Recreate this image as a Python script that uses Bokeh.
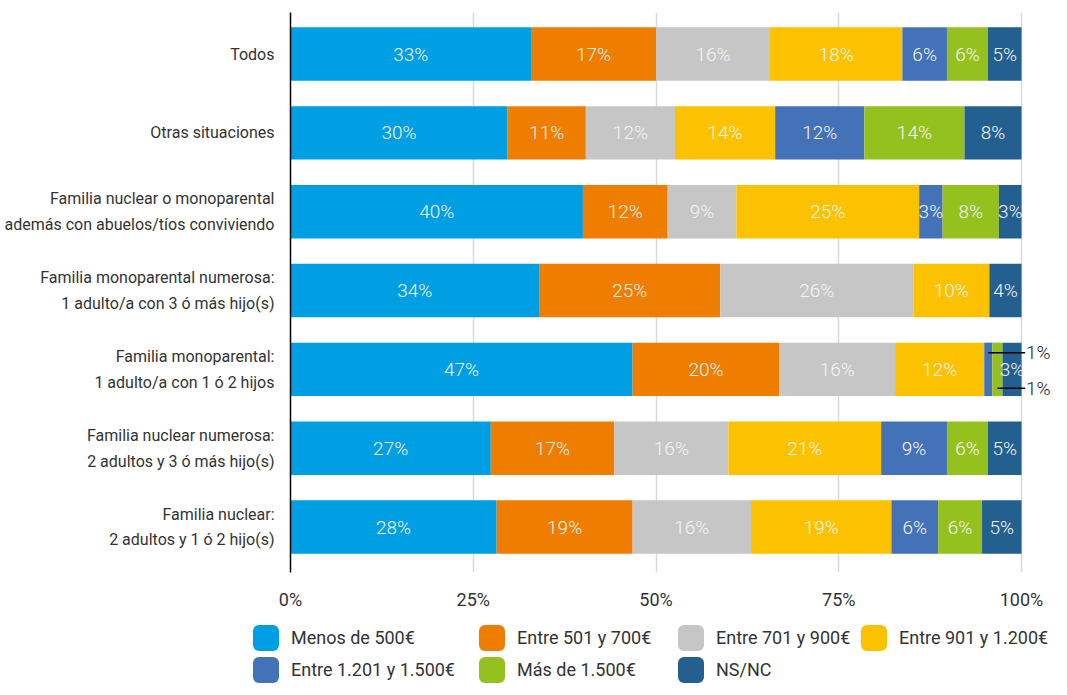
from bokeh.plotting import figure
from bokeh.models import Range1d, FixedTicker, ColumnDataSource, Div
from bokeh.layouts import column
from bokeh.core.properties import value
from bokeh.embed import file_html
from bokeh.resources import INLINE

# ---------------- data ----------------
categories = [
    "Familia nuclear:\n2 adultos y 1 ó 2 hijo(s)",
    "Familia nuclear numerosa:\n2 adultos y 3 ó más hijo(s)",
    "Familia monoparental:\n1 adulto/a con 1 ó 2 hijos",
    "Familia monoparental numerosa:\n1 adulto/a con 3 ó más hijo(s)",
    "Familia nuclear o monoparental\nademás con abuelos/tíos conviviendo",
    "Otras situaciones",
    "Todos",
]
series_names = ["Menos de 500€", "Entre 501 y 700€", "Entre 701 y 900€",
                "Entre 901 y 1.200€", "Entre 1.201 y 1.500€", "Más de 1.500€", "NS/NC"]
# values (%) per series, categories from bottom to top
menos_500 = [28.2, 27.4, 46.8, 34.0, 40.0, 29.7, 32.9]
e501_700 = [18.6, 16.9, 20.1, 24.8, 11.6, 10.7, 17.1]
e701_900 = [16.2, 15.6, 15.8, 26.4, 9.4, 12.2, 15.6]
e901_1200 = [19.2, 20.9, 12.2, 10.4, 25.0, 13.7, 18.1]
e1201_1500 = [6.4, 9.0, 1.1, 0.0, 3.2, 12.2, 6.1]
mas_1500 = [6.0, 5.6, 1.4, 0.0, 7.7, 13.7, 5.6]
ns_nc = [5.4, 4.6, 2.6, 4.4, 3.1, 7.8, 4.6]
x_ticks = [0, 25, 50, 75, 100]
x_tick_labels = ["0%", "25%", "50%", "75%", "100%"]

series = [menos_500, e501_700, e701_900, e901_1200, e1201_1500, mas_1500, ns_nc]
colors = ["#009FE3", "#EF7D00", "#C6C6C6", "#FCC200", "#4472B8", "#95C11F", "#23608F"]

FONT = "Roboto"
LIGHT = "Roboto Light"
TXT = "#333333"
W = 1051

p = figure(width=W, height=612, output_backend="svg", toolbar_location=None,
           x_range=Range1d(0, 104.1), y_range=Range1d(-0.577, 6.527),
           min_border_left=290, min_border_right=0, min_border_top=12, min_border_bottom=34)
p.outline_line_color = None
p.background_fill_color = "white"
p.border_fill_color = "white"

ys = list(range(len(categories)))
left = [0.0] * len(categories)
lab_x, lab_y, lab_t = [], [], []
small = []  # tiny segments get a callout
for vals, col, name in zip(series, colors, series_names):
    right = [l + v for l, v in zip(left, vals)]
    src = ColumnDataSource(dict(y=ys, left=left, right=right))
    p.hbar(y="y", left="left", right="right", height=0.678, source=src,
           fill_color=col, line_color=None, legend_label=name)
    for i, v in enumerate(vals):
        mid = (left[i] + right[i]) / 2
        if v >= 2:
            lab_x.append(mid); lab_y.append(ys[i]); lab_t.append(f"{v:.0f}%")
        elif v > 0:
            small.append((mid, ys[i], f"{v:.0f}%"))
    left = right
p.legend.visible = False  # legend drawn below the chart as an HTML strip

p.text(x=lab_x, y=lab_y, text=lab_t, text_align="center", text_baseline="middle",
       text_font=value(LIGHT), text_font_size="19px", text_color="#F4F4F4")

# callouts for tiny segments
offs = [0.21, -0.24]
for k, (mx, yy, t) in enumerate(small):
    oy = offs[k % 2]
    p.segment(x0=[mx], y0=[yy + oy], x1=[100.5], y1=[yy + oy], line_color="black", line_width=1.5)
    p.text(x=[100.6], y=[yy + oy], text=[t], text_align="left", text_baseline="middle",
           text_font=value(LIGHT), text_font_size="19px", text_color="#1a1a1a")

# axes
p.yaxis.ticker = FixedTicker(ticks=ys)
p.yaxis.major_label_overrides = {i: c for i, c in zip(ys, categories)}
p.yaxis.major_label_text_font = FONT
p.yaxis.major_label_text_font_size = "16px"
p.yaxis.major_label_text_color = TXT
p.yaxis.major_label_text_line_height = 1.35
p.yaxis.major_label_standoff = 10
p.yaxis.axis_line_color = "black"
p.yaxis.axis_line_width = 1.5
p.yaxis.major_tick_line_color = None
p.yaxis.minor_tick_line_color = None

p.xaxis.ticker = FixedTicker(ticks=x_ticks)
p.xaxis.major_label_overrides = {t: l for t, l in zip(x_ticks, x_tick_labels)}
p.xaxis.major_label_text_font = FONT
p.xaxis.major_label_text_font_size = "18px"
p.xaxis.major_label_text_color = TXT
p.xaxis.major_label_standoff = 10
p.xaxis.axis_line_color = None
p.xaxis.major_tick_line_color = None
p.xaxis.minor_tick_line_color = None

p.ygrid.grid_line_color = None
p.xgrid.ticker = FixedTicker(ticks=x_ticks)
p.xgrid.grid_line_color = "#D9D9D9"
p.xgrid.grid_line_width = 1.5

# ---------------- legend strip (2 rows x 4 columns) ----------------
LH = 67
leg_x = [248, 474, 673, 856]
leg_y = [8, 40]
parts = []
for k, (name, col) in enumerate(zip(series_names, colors)):
    row, c = divmod(k, 4)
    parts.append(
        f'<div style="position:absolute;left:{leg_x[c]}px;top:{leg_y[row]}px;height:26px;'
        f'display:flex;align-items:center;white-space:nowrap;">'
        f'<span style="display:inline-block;width:26px;height:26px;border-radius:6px;'
        f'background:{col};margin-right:12px;"></span>'
        f'<span style="font-family:Roboto;font-size:18px;color:{TXT};">{name}</span></div>')
legend_div = Div(text=f'<div style="position:relative;width:{W}px;height:{LH}px;overflow:hidden;">'
                 + "".join(parts) + '</div>', width=W, height=LH)

layout = column(p, legend_div, spacing=0)
open("out.html", "w").write(file_html(layout, INLINE))
